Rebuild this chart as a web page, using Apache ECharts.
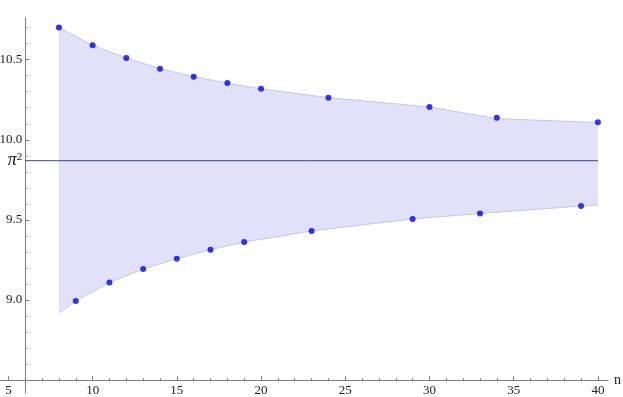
<!DOCTYPE html>
<html>
<head>
<meta charset="utf-8">
<script src="https://cdn.jsdelivr.net/npm/echarts@6/dist/echarts.min.js"></script>
<style>html,body{margin:0;padding:0;background:#fff}#c{width:623px;height:397px}</style>
</head>
<body>
<div id="c"></div>
<script>
// ---- data ----
const upperN = [8, 10, 12, 14, 16, 18, 20, 24, 30, 34, 40];
const upperV = [10.70, 10.59, 10.51, 10.444, 10.394, 10.354, 10.318, 10.263, 10.205, 10.138, 10.11];
const lowerN = [9, 11, 13, 15, 17, 19, 23, 29, 33, 39];
const lowerV = [8.994, 9.11, 9.194, 9.258, 9.314, 9.362, 9.431, 9.506, 9.54, 9.587];
// band boundaries (upper edge passes through upper points)
const bandUpperN = [8, 10, 12, 14, 16, 18, 20, 24, 30, 34, 40];
const bandUpperV = [10.70, 10.59, 10.51, 10.444, 10.394, 10.354, 10.318, 10.263, 10.205, 10.132, 10.108];
const bandLowerN = [8, 9, 11, 13, 15, 17, 19, 23, 29, 33, 39, 40];
const bandLowerV = [8.92, 8.994, 9.11, 9.194, 9.258, 9.314, 9.362, 9.431, 9.506, 9.54, 9.587, 9.592];
const PI2 = Math.PI * Math.PI;
const refLineN = [6, 40];
const xMajorTicks = [5, 10, 15, 20, 25, 30, 35, 40];
const yMajorTicks = [9.0, 9.5, 10.0, 10.5];
const yLabelValues = [9.0, 9.5, PI2, 10.0, 10.5];
const axisOrigin = [6, 8.5];

const xMinorTicks = [];
for (let i = 5; i <= 40; i++) xMinorTicks.push(i);
const yMinorTicks = [];
for (let i = 85; i <= 107; i++) yMinorTicks.push(i / 10);

const FONT = '"Liberation Serif", "Times New Roman", serif';
const AX = '#7f7f7f';
const X_MIN = 4.5, X_MAX = 40.6, Y_MIN = 8.42, Y_MAX = 10.76;
const W = 623, H = 397;
const G = {left: 0, right: 15, top: 18, bottom: 4};
const gw = W - G.left - G.right, gh = H - G.top - G.bottom;

// axis offsets so that the axes cross at axisOrigin
const yOff = -((axisOrigin[0] - X_MIN) / (X_MAX - X_MIN) * gw);
const xOff = -((axisOrigin[1] - Y_MIN) / (Y_MAX - Y_MIN) * gh);

const zip = (a, b) => a.map((v, i) => [v, b[i]]);

const chart = echarts.init(document.getElementById('c'), null, {renderer: 'canvas'});

const xAxisBase = {
  type: 'value', min: X_MIN, max: X_MAX, position: 'bottom',
  splitLine: {show: false}, offset: xOff
};
const yAxisBase = {
  type: 'value', min: Y_MIN, max: Y_MAX, position: 'left',
  splitLine: {show: false}, offset: yOff
};

const option = {
  animation: false,
  backgroundColor: '#ffffff',
  grid: {left: G.left, right: G.right, top: G.top, bottom: G.bottom, containLabel: false, outerBoundsMode: 'none'},
  xAxis: [
    Object.assign({}, xAxisBase, {
      name: 'n', nameLocation: 'end', nameGap: 6,
      nameTextStyle: {fontFamily: FONT, fontSize: 14, color: '#222', verticalAlign: 'middle'},
      axisLine: {show: true, onZero: false, lineStyle: {color: AX, width: 1}},
      axisTick: {show: true, inside: true, length: 4, customValues: xMajorTicks, lineStyle: {color: AX}},
      axisLabel: {show: true, customValues: xMajorTicks, margin: 4, fontFamily: FONT, fontSize: 13, color: '#222'}
    }),
    Object.assign({}, xAxisBase, {
      axisLine: {show: false, onZero: false},
      axisTick: {show: true, inside: true, length: 2, customValues: xMinorTicks, lineStyle: {color: AX}},
      axisLabel: {show: false}
    })
  ],
  yAxis: [
    Object.assign({}, yAxisBase, {
      axisLine: {show: true, onZero: false, lineStyle: {color: AX, width: 1}},
      axisTick: {show: true, inside: true, length: 4, customValues: yMajorTicks, lineStyle: {color: AX}},
      axisLabel: {
        show: true, customValues: yLabelValues, margin: 3,
        fontFamily: FONT, fontSize: 13, color: '#222',
        formatter: function (v) {
          if (Math.abs(v - PI2) < 1e-6) return '{pi|π}{sup|2}';
          return v.toFixed(1);
        },
        rich: {
          pi: {fontFamily: FONT, fontStyle: 'italic', fontSize: 18, color: '#111', lineHeight: 18},
          sup: {fontFamily: FONT, fontSize: 11, color: '#111', verticalAlign: 'top', lineHeight: 18, padding: [0, 0, 7, 0]}
        }
      }
    }),
    Object.assign({}, yAxisBase, {
      axisLine: {show: false, onZero: false},
      axisTick: {show: true, inside: true, length: 2, customValues: yMinorTicks, lineStyle: {color: AX}},
      axisLabel: {show: false}
    })
  ],
  series: [
    {
      type: 'custom',
      xAxisIndex: 0, yAxisIndex: 0,
      z: 1,
      silent: true,
      data: [[bandUpperN[0], bandUpperV[0]]],
      renderItem: function (params, api) {
        const pts = [];
        for (let i = 0; i < bandUpperN.length; i++) pts.push(api.coord([bandUpperN[i], bandUpperV[i]]));
        for (let i = bandLowerN.length - 1; i >= 0; i--) pts.push(api.coord([bandLowerN[i], bandLowerV[i]]));
        return {type: 'polygon', shape: {points: pts}, style: {fill: '#e1e1fa', stroke: null}};
      }
    },
    {
      type: 'line', z: 2, silent: true, showSymbol: false, symbol: 'none',
      data: zip(bandUpperN, bandUpperV),
      lineStyle: {color: '#c6c6ef', width: 1}
    },
    {
      type: 'line', z: 2, silent: true, showSymbol: false, symbol: 'none',
      data: zip(bandLowerN, bandLowerV),
      lineStyle: {color: '#c6c6ef', width: 1}
    },
    {
      type: 'line', z: 3, silent: true, showSymbol: false, symbol: 'none',
      data: refLineN.map(n => [n, PI2]),
      lineStyle: {color: '#3d3d8f', width: 1}
    },
    {
      type: 'scatter', z: 4, symbol: 'circle', symbolSize: 6,
      data: zip(upperN, upperV),
      itemStyle: {color: '#0000ff'}
    },
    {
      type: 'scatter', z: 4, symbol: 'circle', symbolSize: 6,
      data: zip(lowerN, lowerV),
      itemStyle: {color: '#0000ff'}
    }
  ]
};

chart.setOption(option);
</script>
</body>
</html>
